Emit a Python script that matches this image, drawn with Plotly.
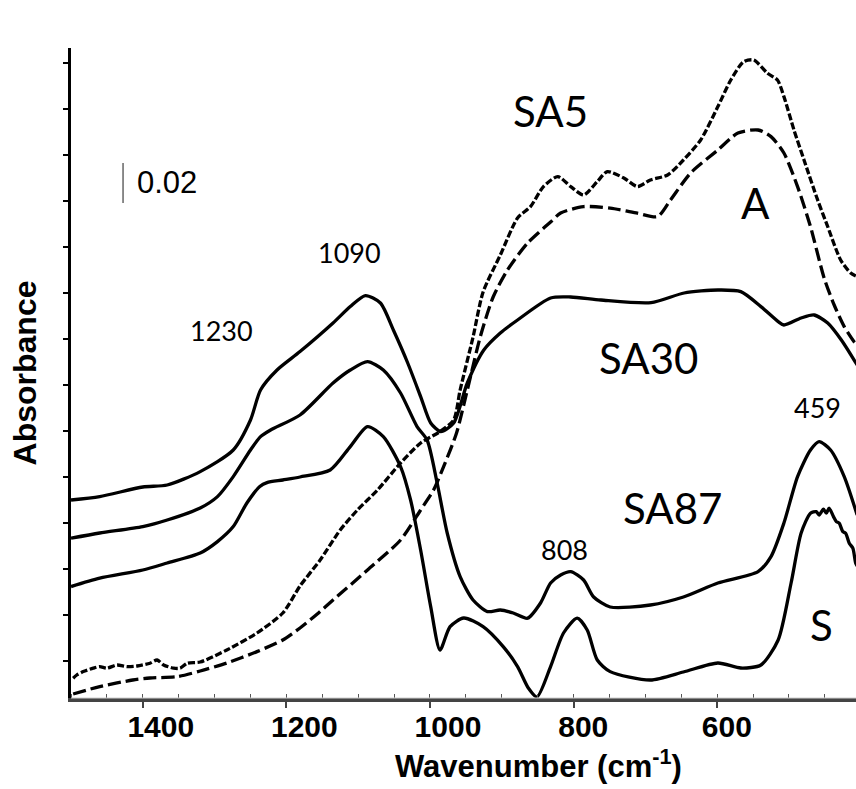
import plotly.graph_objects as go

# ---------------- data (wavenumber in cm-1, absorbance offset-stacked) ----------------
sa30_wn = [1500, 1460, 1400, 1366, 1320, 1274, 1250, 1236, 1213, 1181, 1135, 1111, 1090, 1069,
           1051, 1031, 1013, 999, 985, 967, 948, 925, 902, 878, 832, 804, 762, 692, 646, 599,
           567, 539, 515, 507, 483, 465, 446, 427, 405]
sa30_ab = [0.0990, 0.1007, 0.1055, 0.1065, 0.1132, 0.1240, 0.1390, 0.1540, 0.1640, 0.1732,
           0.1875, 0.1957, 0.2012, 0.1975, 0.1840, 0.1675, 0.1507, 0.1375, 0.1332, 0.1375,
           0.1575, 0.1740, 0.1825, 0.1890, 0.2000, 0.2005, 0.1990, 0.1977, 0.2025, 0.2040,
           0.2032, 0.1957, 0.1882, 0.1865, 0.1900, 0.1915, 0.1875, 0.1790, 0.1665]

sa87_wn = [1500, 1460, 1400, 1366, 1320, 1296, 1274, 1250, 1236, 1222, 1181, 1135, 1111, 1087,
           1065, 1041, 1018, 1004, 990, 976, 958, 940, 920, 902, 884, 864, 846, 832, 818, 804,
           786, 772, 749, 693, 647, 599, 543, 525, 507, 488, 470, 458, 442, 423, 405]
sa87_ab = [0.0799, 0.0825, 0.0857, 0.0890, 0.0950, 0.1007, 0.1107, 0.1240, 0.1307, 0.1340,
           0.1415, 0.1575, 0.1640, 0.1682, 0.1640, 0.1525, 0.1357, 0.1290, 0.1075, 0.0825,
           0.0607, 0.0490, 0.0432, 0.0440, 0.0425, 0.0399, 0.0475, 0.0575, 0.0615, 0.0632,
           0.0590, 0.0505, 0.0455, 0.0465, 0.0505, 0.0575, 0.0632, 0.0707, 0.0875, 0.1107,
           0.1240, 0.1282, 0.1240, 0.1107, 0.0915]

s_wn = [1500, 1460, 1400, 1366, 1320, 1296, 1274, 1255, 1237, 1227, 1205, 1181, 1139, 1111,
        1087, 1065, 1041, 1027, 1013, 999, 986, 972, 953, 926, 898, 878, 863, 851, 832, 814,
        795, 781, 767, 749, 693, 647, 599, 567, 539, 515, 497, 483, 470, 462, 458, 452, 448,
        444, 438, 434, 430, 425, 421, 416, 411, 407, 405]
s_ab = [0.0557, 0.0599, 0.0640, 0.0675, 0.0725, 0.0782, 0.0857, 0.0975, 0.1057, 0.1077,
        0.1090, 0.1105, 0.1140, 0.1257, 0.1357, 0.1307, 0.1157, 0.0990, 0.0740, 0.0457,
        0.0240, 0.0357, 0.0400, 0.0357, 0.0257, 0.0157, 0.0050, 0.0005, 0.0157, 0.0325,
        0.0399, 0.0340, 0.0190, 0.0132, 0.0090, 0.0130, 0.0175, 0.0150, 0.0165, 0.0290,
        0.0575, 0.0825, 0.0924, 0.0932, 0.0915, 0.0944, 0.0924, 0.0949, 0.0907, 0.0882,
        0.0874, 0.0832, 0.0824, 0.0774, 0.0749, 0.0674, 0.0660]

sa5_wn = [1497, 1492, 1483, 1469, 1460, 1450, 1436, 1422, 1408, 1390, 1380, 1371, 1357, 1348,
          1338, 1320, 1283, 1241, 1205, 1181, 1153, 1125, 1101, 1073, 1041, 1013, 986, 967,
          958, 940, 926, 902, 878, 860, 842, 822, 804, 786, 767, 753, 730, 711, 693, 669, 647,
          623, 599, 581, 563, 549, 530, 516, 507, 493, 479, 460, 446, 428, 414, 405]
sa5_ab = [0.0099, 0.0115, 0.0132, 0.0149, 0.0157, 0.0149, 0.0165, 0.0157, 0.0160, 0.0174,
          0.0190, 0.0165, 0.0149, 0.0149, 0.0174, 0.0180, 0.0240, 0.0325, 0.0425, 0.0560,
          0.0690, 0.0840, 0.0940, 0.1040, 0.1175, 0.1275, 0.1332, 0.1390, 0.1540, 0.1805,
          0.2030, 0.2215, 0.2400, 0.2457, 0.2557, 0.2607, 0.2557, 0.2515, 0.2582, 0.2632,
          0.2600, 0.2557, 0.2590, 0.2615, 0.2690, 0.2790, 0.2957, 0.3090, 0.3182, 0.3190,
          0.3124, 0.3090, 0.3007, 0.2840, 0.2690, 0.2490, 0.2357, 0.2190, 0.2125, 0.2107]

a_wn = [1497, 1460, 1414, 1390, 1352, 1320, 1283, 1241, 1205, 1181, 1157, 1135, 1087, 1041,
        1013, 995, 981, 963, 948, 930, 912, 892, 864, 832, 818, 786, 749, 711, 683, 665, 637,
        599, 571, 543, 525, 507, 488, 470, 451, 437, 423, 409, 405]
a_ab = [0.0020, 0.0057, 0.0090, 0.0100, 0.0107, 0.0135, 0.0175, 0.0232, 0.0290, 0.0350,
        0.0420, 0.0490, 0.0640, 0.0790, 0.0940, 0.1040, 0.1157, 0.1325, 0.1540, 0.1805,
        0.2005, 0.2140, 0.2275, 0.2380, 0.2425, 0.2457, 0.2449, 0.2424, 0.2407, 0.2490,
        0.2625, 0.2740, 0.2825, 0.2840, 0.2807, 0.2725, 0.2557, 0.2357, 0.2100, 0.1965,
        0.1857, 0.1780, 0.1765]

# curve labels: (text, wavenumber, absorbance)
curve_labels = [("SA5", 832, 0.2935), ("A", 546, 0.2475), ("SA30", 695, 0.170),
                ("SA87", 662, 0.095), ("S", 454, 0.0365)]
peak_labels = [("556", 560, 0.336), ("1090", 1112, 0.223), ("1230", 1291, 0.184),
               ("808", 812, 0.0745), ("459", 460, 0.1455)]

x_tickvals = [1400, 1200, 1000, 800, 600]
x_ticktext = ["1400", "1200", "1000", "800\u00a0\u00a0", "600\u00a0\u00a0"]

scale_bar_wn = 1427.5
scale_bar_y0 = 0.2475
scale_bar_len = 0.02

# ---------------- figure ----------------
fig = go.Figure()

def add(wn, ab, dash, name):
    fig.add_trace(go.Scatter(x=wn, y=ab, mode="lines", name=name, hoverinfo="skip",
                             line=dict(color="black", width=3.3, dash=dash,
                                       shape="spline", smoothing=0.7)))

add(a_wn, a_ab, "13px,5px", "A")
add(sa5_wn, sa5_ab, "7px,2.5px", "SA5")
add(sa30_wn, sa30_ab, "solid", "SA30")
add(sa87_wn, sa87_ab, "solid", "SA87")
add(s_wn, s_ab, "solid", "S")

label_font = dict(family="Lato", size=42, color="black")
peak_font = dict(family="Lato", size=27, color="black")
anns = []
for t, x, y in curve_labels:
    anns.append(dict(text=t, x=x, y=y, xref="x", yref="y", showarrow=False,
                     xanchor="center", yanchor="middle", font=label_font))
for t, x, y in peak_labels:
    anns.append(dict(text=t, x=x, y=y, xref="x", yref="y", showarrow=False,
                     xanchor="center", yanchor="middle", font=peak_font))
anns.append(dict(text="0.02", x=1411, y=scale_bar_y0 + scale_bar_len / 2 + 0.0005,
                 xref="x", yref="y", showarrow=False, xanchor="left", yanchor="middle",
                 font=dict(family="Liberation Sans", size=31, color="black")))
# x-axis title (offset to the right of the plot centre, as in the original)
anns.append(dict(text="Wavenumber (cm<sup>-1</sup>)", x=0.596, y=-0.102, xref="paper",
                 yref="paper", showarrow=False, xanchor="center", yanchor="middle",
                 font=dict(family="Liberation Sans", size=31, color="black", weight="bold")))

shapes = [
    dict(type="line", xref="x", yref="y", x0=scale_bar_wn, x1=scale_bar_wn,
         y0=scale_bar_y0, y1=scale_bar_y0 + scale_bar_len, line=dict(color="#666", width=1.5)),
    dict(type="line", xref="paper", yref="paper", x0=0, x1=1, y0=0, y1=0,
         line=dict(color="#cfcfcf", width=1)),
]

axis_font = dict(family="Liberation Sans", size=30, color="black", weight="bold")

fig.update_layout(
    width=856, height=789,
    margin=dict(l=71, r=0, t=48, b=91, autoexpand=False),
    paper_bgcolor="white", plot_bgcolor="white",
    showlegend=False, hovermode=False,
    annotations=anns, shapes=shapes,
    xaxis=dict(range=[1500, 406.6], tickmode="array", tickvals=x_tickvals,
               ticktext=x_ticktext, tickfont=axis_font, ticks="outside", ticklen=6,
               tickwidth=1.5, tickcolor="#444", ticklabelshift=-18, ticklabelstandoff=-7,
               showline=True, linecolor="#444", linewidth=4, showgrid=False, zeroline=False,
               automargin=False,
               minor=dict(tickmode="linear", tick0=0, dtick=50, ticks="inside", ticklen=4,
                          tickwidth=1, tickcolor="#555")),
    yaxis=dict(range=[0, 0.325], showticklabels=False, tickmode="linear", tick0=0.01835,
               dtick=0.023, ticks="outside", ticklen=5, tickwidth=1.5, tickcolor="black",
               showline=True, linecolor="black", linewidth=2.5, showgrid=False,
               zeroline=False, automargin=False,
               title=dict(text="Absorbance", standoff=18,
                          font=dict(family="Liberation Sans", size=32, color="black",
                                    weight="bold"))),
)

# remove the default page margin so the 856x789 figure fills the window exactly
fig.write_html("out.html", config={"displayModeBar": False},
               post_script="document.body.style.margin='0px';")
